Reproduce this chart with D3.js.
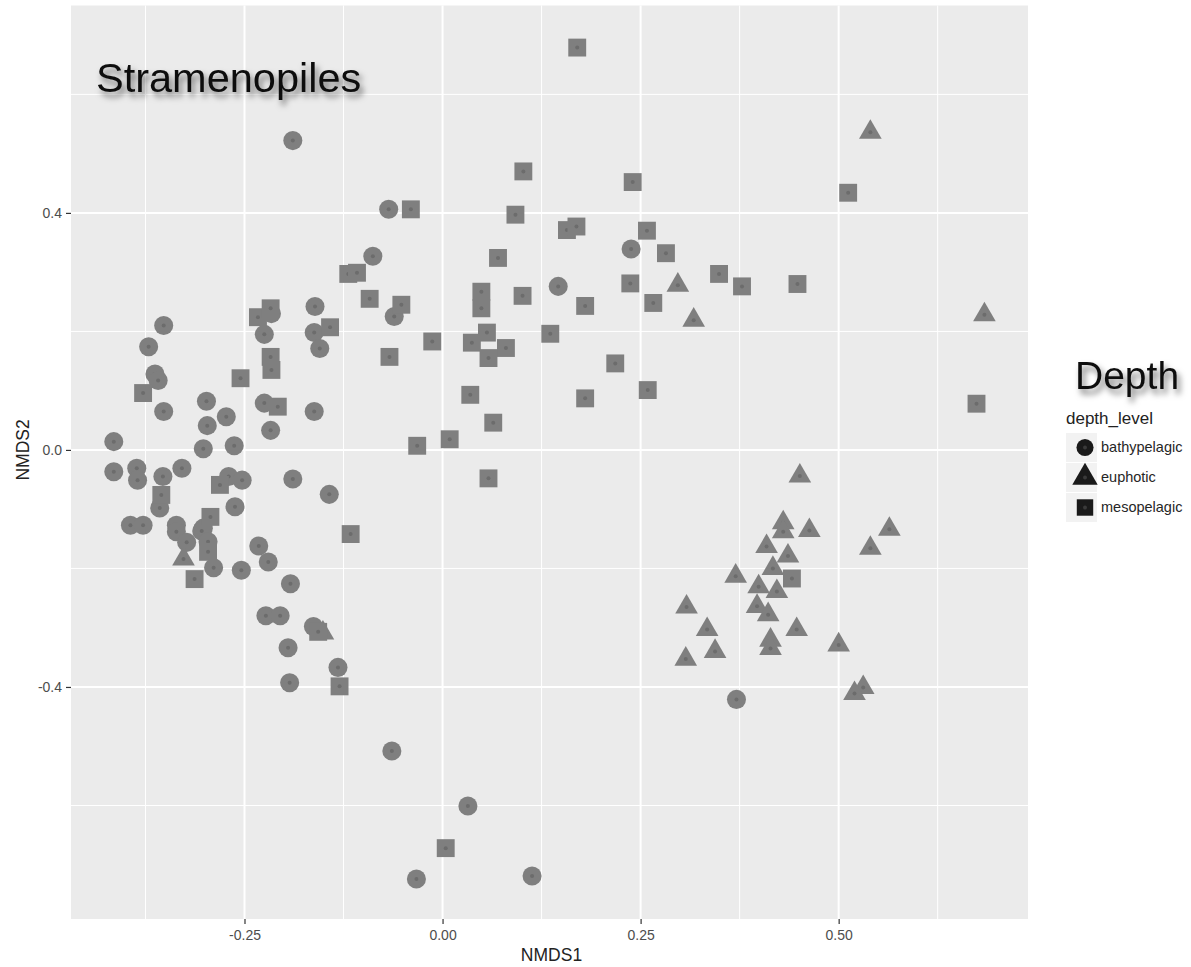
<!DOCTYPE html>
<html>
<head>
<meta charset="utf-8">
<script src="https://cdn.jsdelivr.net/npm/d3@7"></script>
<style>
  body { margin: 0; background: #fff; }
  svg text { font-family: "Liberation Sans", Arial, sans-serif; }
</style>
</head>
<body>
<div id="nmds"></div>
<script>
/*
 *  DATA
 */
// NMDS1, NMDS2
var bathypelagic = [
  [-0.352, 0.210], [-0.371, 0.174], [-0.363, 0.128], [-0.359, 0.117], [-0.352, 0.065],
  [-0.298, 0.082], [-0.273, 0.056], [-0.297, 0.041], [-0.415, 0.014], [-0.302, 0.002],
  [-0.263, 0.007], [-0.415, -0.037], [-0.386, -0.031], [-0.385, -0.051], [-0.353, -0.045],
  [-0.329, -0.031], [-0.270, -0.045], [-0.253, -0.051], [-0.189, -0.049], [-0.143, -0.075],
  [-0.357, -0.098], [-0.262, -0.096], [-0.394, -0.127], [-0.378, -0.127], [-0.336, -0.127],
  [-0.302, -0.132], [-0.336, -0.138], [-0.323, -0.156], [-0.304, -0.137], [-0.296, -0.155],
  [-0.289, -0.199], [-0.254, -0.203], [-0.232, -0.162], [-0.220, -0.189], [-0.192, -0.226],
  [-0.223, -0.280], [-0.205, -0.280], [-0.163, -0.298], [-0.195, -0.334], [-0.132, -0.367],
  [-0.193, -0.393], [-0.216, 0.230], [-0.225, 0.195], [-0.161, 0.242], [-0.162, 0.198],
  [-0.155, 0.171], [-0.061, 0.225], [-0.225, 0.079], [-0.162, 0.065], [-0.217, 0.033],
  [-0.189, 0.522], [-0.068, 0.406], [-0.088, 0.327], [0.238, 0.339], [0.146, 0.276],
  [0.371, -0.421], [-0.064, -0.508], [0.032, -0.601], [-0.033, -0.724], [0.113, -0.719]
];
var euphotic = [
  [-0.327, -0.184], [-0.151, -0.309], [0.297, 0.278], [0.317, 0.219], [0.540, 0.536],
  [0.684, 0.228], [0.451, -0.044], [0.430, -0.123], [0.430, -0.138], [0.463, -0.136],
  [0.564, -0.134], [0.540, -0.166], [0.409, -0.163], [0.436, -0.179], [0.417, -0.200],
  [0.370, -0.213], [0.399, -0.231], [0.422, -0.239], [0.308, -0.265], [0.397, -0.264],
  [0.411, -0.278], [0.334, -0.303], [0.447, -0.303], [0.414, -0.321], [0.414, -0.335],
  [0.344, -0.340], [0.307, -0.353], [0.500, -0.329], [0.531, -0.401], [0.520, -0.411]
];
var mesopelagic = [
  [-0.378, 0.096], [-0.281, -0.059], [-0.355, -0.076], [-0.293, -0.113], [-0.116, -0.142],
  [-0.233, 0.224], [-0.217, 0.239], [-0.142, 0.207], [-0.092, 0.255], [-0.052, 0.245],
  [-0.067, 0.157], [-0.217, 0.157], [-0.216, 0.135], [-0.255, 0.121], [-0.208, 0.073],
  [-0.296, -0.172], [-0.313, -0.218], [-0.157, -0.307], [-0.130, -0.399], [0.102, 0.470],
  [0.240, 0.452], [-0.040, 0.406], [0.092, 0.397], [0.157, 0.371], [0.169, 0.377],
  [0.258, 0.370], [0.282, 0.332], [0.070, 0.324], [-0.119, 0.297], [-0.108, 0.299],
  [0.049, 0.267], [0.049, 0.239], [0.101, 0.260], [0.180, 0.243], [0.237, 0.281],
  [0.266, 0.248], [-0.013, 0.183], [0.056, 0.198], [0.037, 0.181], [0.080, 0.172],
  [0.058, 0.155], [0.136, 0.196], [0.218, 0.146], [0.035, 0.093], [0.180, 0.087],
  [0.259, 0.101], [0.064, 0.046], [0.009, 0.018], [-0.032, 0.007], [0.058, -0.048],
  [0.512, 0.434], [0.349, 0.297], [0.378, 0.276], [0.448, 0.280], [0.674, 0.078],
  [0.170, 0.679], [0.004, -0.672], [0.441, -0.217]
];

var depthLevels = ["bathypelagic", "euphotic", "mesopelagic"];
var xTicks = [-0.25, 0, 0.25, 0.5];
var xMinor = [-0.375, -0.125, 0.125, 0.375, 0.625];
var yTicks = [-0.4, 0, 0.4];
var yMinor = [-0.6, -0.2, 0.2, 0.6];

/*
 *  DECLARATION BLOCK
 */
var view_width = 1191;
var view_height = 967;
var margin = {top: 5.5, bottom: 48, left: 71, right: 163};
var width = view_width - margin.left - margin.right;
var height = view_height - margin.top - margin.bottom;

var x_scale = d3.scaleLinear()
    .domain([-0.469, 0.739])
    .range([0, width]);
var y_scale = d3.scaleLinear()
    .domain([-0.7916, 0.750])
    .range([height, 0]);

var svg_root = d3.select('#nmds')
    .append('svg')
        .attr('width', view_width)
        .attr('height', view_height);

var defs = svg_root.append('defs');
var shadow = defs.append('filter')
    .attr('id', 'shadow')
    .attr('x', '-10%').attr('y', '-30%')
    .attr('width', '130%').attr('height', '180%');
shadow.append('feDropShadow')
    .attr('dx', 3).attr('dy', 5)
    .attr('stdDeviation', 3)
    .attr('flood-color', '#000')
    .attr('flood-opacity', 0.55);

var svg = svg_root.append('g')
    .attr('transform', 'translate(' + margin.left + ',' + margin.top + ')');

// panel + grid
svg.append('rect')
    .attr('width', width)
    .attr('height', height)
    .attr('fill', '#ebebeb');

svg.selectAll('.xminor').data(xMinor).enter().append('line')
    .attr('x1', function(d) { return x_scale(d); })
    .attr('x2', function(d) { return x_scale(d); })
    .attr('y1', 0).attr('y2', height)
    .attr('stroke', '#fff').attr('stroke-width', 1);
svg.selectAll('.yminor').data(yMinor).enter().append('line')
    .attr('y1', function(d) { return y_scale(d); })
    .attr('y2', function(d) { return y_scale(d); })
    .attr('x1', 0).attr('x2', width)
    .attr('stroke', '#fff').attr('stroke-width', 1);
svg.selectAll('.xmajor').data(xTicks).enter().append('line')
    .attr('x1', function(d) { return x_scale(d); })
    .attr('x2', function(d) { return x_scale(d); })
    .attr('y1', 0).attr('y2', height)
    .attr('stroke', '#fff').attr('stroke-width', 2);
svg.selectAll('.ymajor').data(yTicks).enter().append('line')
    .attr('y1', function(d) { return y_scale(d); })
    .attr('y2', function(d) { return y_scale(d); })
    .attr('x1', 0).attr('x2', width)
    .attr('stroke', '#fff').attr('stroke-width', 2);

// axes
var xAxis = svg.append('g')
    .attr('class', 'axis axis--x')
    .attr('transform', 'translate(0,' + height + ')')
    .call(d3.axisBottom(x_scale).tickValues(xTicks).tickSize(5).tickPadding(6)
        .tickFormat(function(d) { return d.toFixed(2); }));
var yAxis = svg.append('g')
    .attr('class', 'axis axis--y')
    .call(d3.axisLeft(y_scale).tickValues(yTicks).tickSize(5).tickPadding(4)
        .tickFormat(function(d) { return d.toFixed(1); }));

svg.selectAll('.axis .domain').remove();
svg.selectAll('.axis line').attr('stroke', '#333').attr('stroke-width', 1.2);
svg.selectAll('.axis text')
    .attr('fill', '#4d4d4d')
    .style('font-size', '14px')
    .style('font-family', '"Liberation Sans", Arial, sans-serif');
yAxis.selectAll('text').attr('dy', '0.36em');

svg.append('text')
    .attr('x', width / 2 + 2)
    .attr('y', height + 42)
    .attr('text-anchor', 'middle')
    .attr('fill', '#222')
    .style('font-size', '17.5px')
    .text('NMDS1');

svg.append('text')
    .attr('transform', 'translate(-42,' + y_scale(0) + ')rotate(-90)')
    .attr('text-anchor', 'middle')
    .attr('fill', '#222')
    .style('font-size', '17.5px')
    .text('NMDS2');

// points
var symbolType = {
  bathypelagic: d3.symbolCircle,
  euphotic: d3.symbolTriangle,
  mesopelagic: d3.symbolSquare
};
var symbolSize = { bathypelagic: 285, euphotic: 222, mesopelagic: 320 };
var groups = { bathypelagic: bathypelagic, euphotic: euphotic, mesopelagic: mesopelagic };

depthLevels.forEach(function(level) {
    var pts = svg.append('g').attr('class', 'pts ' + level)
        .selectAll('g')
        .data(groups[level])
        .enter().append('g')
        .attr('transform', function(d) {
            return 'translate(' + x_scale(d[0]) + ',' + y_scale(d[1]) + ')';
        });
    pts.append('path')
        .attr('d', d3.symbol().type(symbolType[level]).size(symbolSize[level]))
        .attr('fill', '#7f7f7f');
    pts.append('circle')
        .attr('r', 2)
        .attr('fill', '#6c6c6c');
});

// title annotations
svg_root.append('text')
    .attr('x', 96)
    .attr('y', 92)
    .attr('fill', '#111')
    .attr('filter', 'url(#shadow)')
    .style('font-size', '41.5px')
    .text('Stramenopiles');

svg_root.append('text')
    .attr('x', 1075)
    .attr('y', 389)
    .attr('fill', '#111')
    .attr('filter', 'url(#shadow)')
    .style('font-size', '39px')
    .text('Depth');

// legend
var legend = svg_root.append('g')
    .attr('transform', 'translate(1066,0)');
legend.append('text')
    .attr('x', 0)
    .attr('y', 424)
    .attr('fill', '#222')
    .style('font-size', '17px')
    .text('depth_level');

var key = legend.selectAll('.key')
    .data(depthLevels)
    .enter().append('g')
    .attr('class', 'key')
    .attr('transform', function(d, i) { return 'translate(0,' + (433 + i * 30) + ')'; });
key.append('rect')
    .attr('width', 31).attr('height', 29)
    .attr('fill', '#f2f2f2');
key.append('path')
    .attr('transform', 'translate(19,14.5)')
    .attr('d', function(d) {
        var s = d === 'euphotic' ? 280 : (d === 'mesopelagic' ? 270 : 230);
        return d3.symbol().type(symbolType[d]).size(s)();
    })
    .attr('fill', '#1a1a1a');
key.append('circle')
    .attr('cx', 19).attr('cy', 14.5).attr('r', 2)
    .attr('fill', '#3a3a3a');
key.append('text')
    .attr('x', 35)
    .attr('y', 19)
    .attr('fill', '#262626')
    .style('font-size', '14.5px')
    .text(function(d) { return d; });
</script>
</body>
</html>
